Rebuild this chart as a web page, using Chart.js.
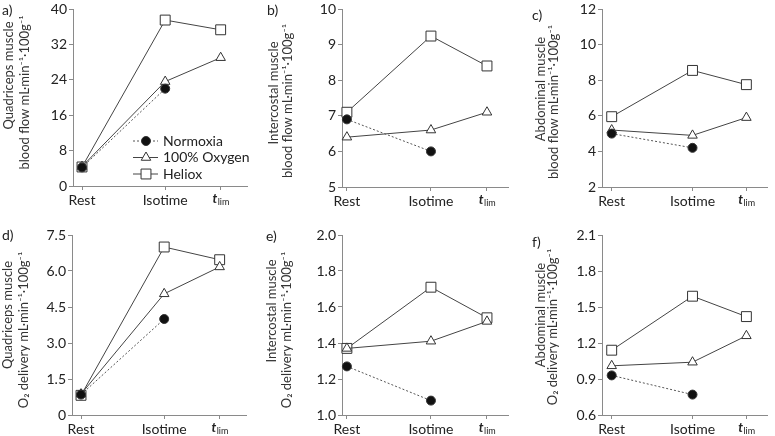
<!DOCTYPE html>
<html>
<head>
<meta charset="utf-8">
<script src="https://cdn.jsdelivr.net/npm/chart.js@4.4.1/dist/chart.umd.min.js"></script>
<style>
  html, body { margin: 0; padding: 0; background: #fff; }
  #wrap { position: relative; width: 775px; height: 436px; overflow: hidden; }
  #wrap canvas { position: absolute; }
</style>
</head>
<body>
<div id="wrap"></div>
<script>
// Time points: Rest, Isotime and t_lim, placed along a linear x axis
const timeLabels = ['Rest', 'Isotime', 'tlim'];
const timePos = [0, 0.6, 1];
const seriesNames = ['Normoxia', '100% Oxygen', 'Heliox'];

// a) Quadriceps muscle blood flow
const quadFlowNormoxia = [4.2, 22.0];
const quadFlowOxygen = [4.4, 23.6, 29.0];
const quadFlowHeliox = [4.3, 37.5, 35.3];
// b) Intercostal muscle blood flow
const interFlowNormoxia = [6.9, 6.0];
const interFlowOxygen = [6.4, 6.6, 7.1];
const interFlowHeliox = [7.1, 9.24, 8.4];
// c) Abdominal muscle blood flow
const abdoFlowNormoxia = [5.0, 4.2];
const abdoFlowOxygen = [5.2, 4.9, 5.9];
const abdoFlowHeliox = [5.95, 8.55, 7.75];
// d) Quadriceps muscle O2 delivery
const quadO2Normoxia = [0.85, 4.0];
const quadO2Oxygen = [0.87, 5.05, 6.17];
const quadO2Heliox = [0.82, 7.0, 6.47];
// e) Intercostal muscle O2 delivery
const interO2Normoxia = [1.27, 1.08];
const interO2Oxygen = [1.37, 1.41, 1.52];
const interO2Heliox = [1.37, 1.71, 1.54];
// f) Abdominal muscle O2 delivery
const abdoO2Normoxia = [0.93, 0.77];
const abdoO2Oxygen = [1.01, 1.04, 1.26];
const abdoO2Heliox = [1.14, 1.59, 1.42];

// y axis ranges, one entry per panel a..f
const yMin = [0, 5, 2, 0, 1.0, 0.6];
const yMax = [40, 10, 12, 7.5, 2.0, 2.1];
const yStep = [8, 1, 2, 1.5, 0.2, 0.3];
const yDecimals = [0, 0, 0, 1, 1, 1];

const FONT = 'Lato, "Open Sans", sans-serif';
const TEXT = '#222';
const AXIS = '#8a8a8a';

const seriesStyle = [
    { pointStyle: 'circle', radius: 4.5, fill: '#111', dash: [2, 2], line: '#555' },
    { pointStyle: 'triangle', radius: 5.5, fill: '#fff', dash: [], line: '#444' },
    { pointStyle: 'rect', radius: 7, fill: '#fff', dash: [], line: '#444' },
];

const flowUnit = 'blood flow mL\u00b7min\u207b\u00b9\u00b7100g\u207b\u00b9';
const o2Unit = 'O\u2082 delivery mL\u00b7min\u207b\u00b9\u00b7100g\u207b\u00b9';

const panels = [
    { letter: 'a)', x: 0, y: 0, w: 258, area: [73, 247, 8, 186], xr: [-0.065, 1.19],
      title: ['Quadriceps muscle', flowUnit], titleX: [9, 25], titleShift: [-22, -5], letterAt: [2, 10],
      values: [quadFlowNormoxia, quadFlowOxygen, quadFlowHeliox], legend: true },
    { letter: 'b)', x: 258, y: 0, w: 258, area: [84, 254, 7, 187], xr: [-0.035, 1.15],
      title: ['Intercostal muscle', flowUnit], titleX: [15.5, 30], titleShift: [-5, 3], letterAt: [9, 10],
      values: [interFlowNormoxia, interFlowOxygen, interFlowHeliox] },
    { letter: 'c)', x: 516, y: 0, w: 259, area: [86, 256, 7, 187], xr: [-0.072, 1.153],
      title: ['Abdominal muscle', flowUnit], titleX: [25, 38], titleShift: [-9, 4], letterAt: [16, 15],
      values: [abdoFlowNormoxia, abdoFlowOxygen, abdoFlowHeliox] },
    { letter: 'd)', x: 0, y: 218, w: 258, area: [72, 246, 17, 197], xr: [-0.065, 1.19],
      title: ['Quadriceps muscle', o2Unit], titleX: [8, 24], titleShift: [-10, 5], letterAt: [2, 17],
      values: [quadO2Normoxia, quadO2Oxygen, quadO2Heliox] },
    { letter: 'e)', x: 258, y: 218, w: 258, area: [84, 254, 17, 197], xr: [-0.035, 1.15],
      title: ['Intercostal muscle', o2Unit], titleX: [14, 29], titleShift: [-14, 5], letterAt: [8, 18],
      values: [interO2Normoxia, interO2Oxygen, interO2Heliox] },
    { letter: 'f)', x: 516, y: 218, w: 259, area: [86, 255, 17, 197], xr: [-0.072, 1.153],
      title: ['Abdominal muscle', o2Unit], titleX: [25, 37], titleShift: [-10, 2], letterAt: [16, 24],
      values: [abdoO2Normoxia, abdoO2Oxygen, abdoO2Heliox] },
];

function drawMarker(ctx, s, x, y) {
    ctx.fillStyle = s.fill;
    ctx.strokeStyle = '#333';
    ctx.lineWidth = 1;
    ctx.setLineDash([]);
    Chart.helpers.drawPoint(ctx, { pointStyle: s.pointStyle, radius: s.radius, rotation: 0, borderWidth: 1 }, x, y);
}

// Panel letter, two-line y title, italic t_lim label and (panel a) the legend
const decor = {
    id: 'decor',
    afterDraw(chart, args, opts) {
        const { ctx, chartArea: area } = chart;
        ctx.save();
        ctx.fillStyle = TEXT;
        ctx.font = `14px ${FONT}`;
        ctx.textAlign = 'left';
        ctx.textBaseline = 'middle';
        ctx.fillText(opts.letter, opts.letterAt[0], opts.letterAt[1]);

        const midY = (area.top + area.bottom) / 2;
        ctx.font = `13px ${FONT}`;
        ctx.fillStyle = '#333';
        ctx.textAlign = 'center';
        opts.title.forEach((line, i) => {
            ctx.save();
            ctx.translate(opts.titleX[i], midY + opts.titleShift[i]);
            ctx.rotate(-Math.PI / 2);
            ctx.fillText(line, 0, 0);
            ctx.restore();
        });

        // t_lim: italic t with subscript "lim"
        ctx.fillStyle = TEXT;
        const tx = chart.scales.x.getPixelForValue(timePos[2]);
        const ty = area.bottom + 13;
        ctx.textAlign = 'left';
        ctx.font = `italic bold 13px ${FONT}`;
        const tw = ctx.measureText('t').width;
        ctx.font = `9px ${FONT}`;
        const lw = ctx.measureText('lim').width;
        const x0 = tx - (tw + lw) / 2;
        ctx.font = `italic bold 13px ${FONT}`;
        ctx.fillText('t', x0, ty);
        ctx.font = `9px ${FONT}`;
        ctx.fillText('lim', x0 + tw + 0.5, ty + 3);

        if (opts.legend) {
            seriesNames.forEach((name, i) => {
                const s = seriesStyle[i];
                const y = area.top + 132 + i * 16.5;
                const lx = area.left + 60;
                ctx.strokeStyle = s.line;
                ctx.lineWidth = 1;
                ctx.setLineDash(s.dash);
                ctx.beginPath();
                ctx.moveTo(lx, y);
                ctx.lineTo(lx + 25, y);
                ctx.stroke();
                drawMarker(ctx, s, lx + 13, y);
                ctx.fillStyle = TEXT;
                ctx.font = `14px ${FONT}`;
                ctx.textAlign = 'left';
                ctx.fillText(name, lx + 30, y);
            });
        }
        ctx.restore();
    }
};

const wrap = document.getElementById('wrap');
const H = 218;
const X_AXIS_H = 24;

panels.forEach((p, idx) => {
    const canvas = document.createElement('canvas');
    canvas.width = p.w;
    canvas.height = H;
    canvas.style.left = p.x + 'px';
    canvas.style.top = p.y + 'px';
    canvas.style.width = p.w + 'px';
    canvas.style.height = H + 'px';
    wrap.appendChild(canvas);

    const [left, right, top, bottom] = p.area;
    const nTicks = Math.round((yMax[idx] - yMin[idx]) / yStep[idx]);

    new Chart(canvas, {
        type: 'line',
        data: {
            datasets: p.values.map((vals, s) => ({
                label: seriesNames[s],
                data: vals.map((v, i) => ({ x: timePos[i], y: v })),
                borderColor: seriesStyle[s].line,
                borderWidth: 1,
                borderDash: seriesStyle[s].dash,
                pointStyle: seriesStyle[s].pointStyle,
                pointRadius: seriesStyle[s].radius,
                pointHoverRadius: seriesStyle[s].radius,
                pointBackgroundColor: seriesStyle[s].fill,
                pointBorderColor: '#333',
                pointBorderWidth: 1,
                tension: 0,
                fill: false,
                clip: false,
            })),
        },
        options: {
            responsive: false,
            animation: false,
            events: [],
            layout: { padding: { left: 0, top: top, right: p.w - right, bottom: H - bottom - X_AXIS_H } },
            plugins: {
                legend: { display: false },
                tooltip: { enabled: false },
                decor: p,
            },
            scales: {
                x: {
                    type: 'linear',
                    min: p.xr[0],
                    max: p.xr[1],
                    afterBuildTicks: (scale) => { scale.ticks = timePos.map(v => ({ value: v })); },
                    afterFit: (scale) => { scale.height = X_AXIS_H; },
                    ticks: {
                        font: { family: FONT, size: 14, lineHeight: 1 },
                        color: TEXT,
                        padding: 3,
                        maxRotation: 0,
                        autoSkip: false,
                        callback: (v) => {
                            const i = timePos.indexOf(v);
                            return i === 2 ? '' : timeLabels[i];
                        },
                    },
                    grid: { drawOnChartArea: false, drawTicks: true, tickLength: 4, color: AXIS },
                    border: { color: AXIS, width: 1 },
                },
                y: {
                    min: yMin[idx],
                    max: yMax[idx],
                    afterBuildTicks: (scale) => {
                        const t = [];
                        for (let k = 0; k <= nTicks; k++) t.push({ value: yMin[idx] + k * yStep[idx] });
                        scale.ticks = t;
                    },
                    afterFit: (scale) => { scale.width = left; },
                    ticks: {
                        font: { family: FONT, size: 14, lineHeight: 1 },
                        color: TEXT,
                        padding: 2,
                        callback: (v) => (Math.abs(v) < 1e-9 ? '0' : v.toFixed(yDecimals[idx])),
                    },
                    grid: { drawOnChartArea: false, drawTicks: true, tickLength: 4, color: AXIS },
                    border: { color: AXIS, width: 1 },
                },
            },
        },
        plugins: [decor],
    });
});
</script>
</body>
</html>
